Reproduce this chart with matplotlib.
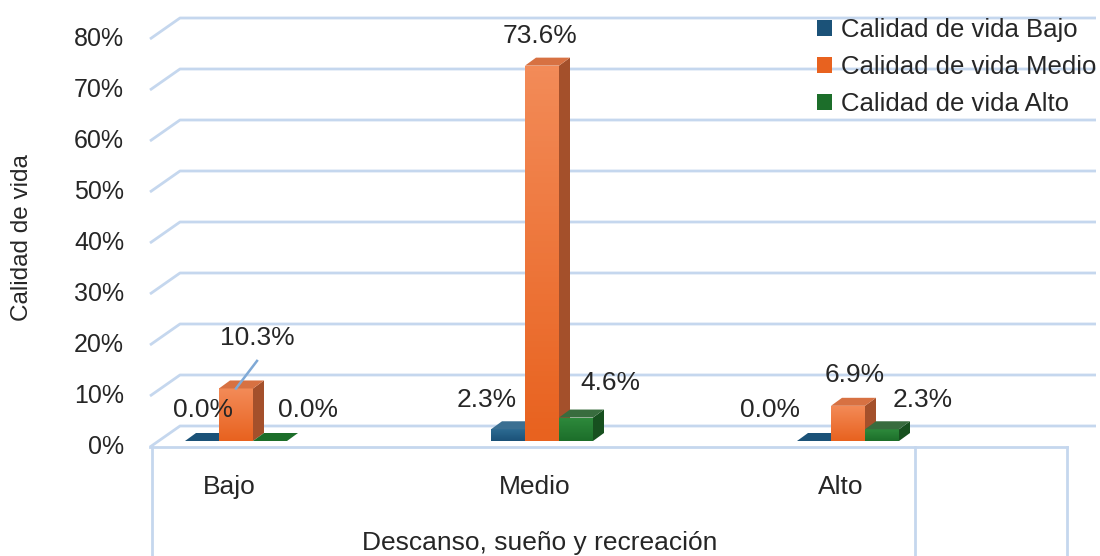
import numpy as np
import matplotlib.pyplot as plt
from matplotlib.patches import Polygon, Rectangle, Patch
from matplotlib.colors import LinearSegmentedColormap

# data
categories = ['Bajo', 'Medio', 'Alto']
series_names = ['Calidad de vida Bajo', 'Calidad de vida Medio', 'Calidad de vida Alto']
vida_bajo = [0.0, 2.3, 0.0]
vida_medio = [10.3, 73.6, 6.9]
vida_alto = [0.0, 4.6, 2.3]
ytick_values = [0, 10, 20, 30, 40, 50, 60, 70, 80]

plt.rcParams['font.family'] = ['Liberation Sans', 'DejaVu Sans']

W, H = 1100, 556
fig = plt.figure(figsize=(11, 5.56), dpi=100)
ax = fig.add_axes([0, 0, 1, 1])

# axis scale: one category = 306 px, 1 % = 5.1 px, baseline at pixel row 441
X0, STEP, Y0, PPU = 236, 306.0, 441, 5.1
ax.set_xlim(-X0 / STEP, (W - X0) / STEP)
ax.set_ylim(-(H - Y0) / PPU, Y0 / PPU)
ax.axis('off')


def px(x, y):
    # pixel position -> data coords (used for layout only)
    return (x - X0) / STEP, (Y0 - y) / PPU


text_c = '#262626'
grid_c = '#C5D7EE'

# walls / gridlines (pseudo 3d)
left_f = px(150, 0)[0]
left_b = px(180, 0)[0]
right_b = px(1096, 0)[0]
right_f = px(1067, 0)[0]
f_off = -6 / PPU
b_off = 15 / PPU
for v in ytick_values:
    ax.plot([left_f, left_b, right_b], [v + f_off, v + b_off, v + b_off],
            color=grid_c, lw=2, zorder=1, solid_capstyle='butt')
    ax.text(px(124, 0)[0], v + f_off, f'{v}%', ha='right', va='center',
            fontsize=18, color=text_c)

# floor front edge and the category box lines
ax.plot([left_f, right_f], [f_off, f_off], color=grid_c, lw=2, zorder=1)
bottom = px(0, H)[1]
for xp in [152, 915, 1067]:
    xd = px(xp, 0)[0]
    ax.plot([xd, xd], [f_off, bottom], color=grid_c, lw=2, zorder=1)

# bars
bw = 34 / STEP
ddx = 11 / STEP
ddy = 8 / PPU
colors = [
    # front top, front bottom, top face, side face
    ('#2C6A92', '#1B5278', '#3B6F92', '#17415F'),
    ('#F38B58', '#E8621F', '#D77142', '#A4502B'),
    ('#2E8A3C', '#1C6E2A', '#386C3E', '#17501F'),
]
series_vals = [vida_bajo, vida_medio, vida_alto]

# label offsets (px) from bar top centre
label_offsets = [
    [(1, -31), (-21, -29), (-44, -31)],
    [(21, -50), (-2, -30), (7, -31)],
    [(38, -31), (34, -35), (41, -29)],
]

for i, cat in enumerate(categories):
    for j, vals in enumerate(series_vals):
        h = vals[i]
        x0 = i + (j - 1) * bw - bw / 2
        c_top, c_bot, c_lid, c_side = colors[j]
        z = 3 + j
        if h > 0:
            front = Rectangle((x0, 0), bw, h, facecolor='none', edgecolor='none', zorder=z)
            ax.add_patch(front)
            grad = np.linspace(0, 1, 64).reshape(-1, 1)
            cmap = LinearSegmentedColormap.from_list('g', [c_bot, c_top])
            im = ax.imshow(grad, extent=(x0, x0 + bw, 0, h), origin='lower',
                           cmap=cmap, aspect='auto', zorder=z)
            im.set_clip_path(front)
            ax.add_patch(Polygon([(x0 + bw, 0), (x0 + bw + ddx, ddy),
                                  (x0 + bw + ddx, h + ddy), (x0 + bw, h)],
                                 facecolor=c_side, edgecolor='none', zorder=z))
        ax.add_patch(Polygon([(x0, h), (x0 + bw, h), (x0 + bw + ddx, h + ddy),
                              (x0 + ddx, h + ddy)],
                             facecolor=c_lid if h > 0 else c_bot, edgecolor='none', zorder=z))
        dx_px, dy_px = label_offsets[j][i]
        lx = x0 + bw / 2 + dx_px / STEP
        ly = h - dy_px / PPU
        ax.text(lx, ly, f'{h:.1f}%', ha='center', va='center', fontsize=19,
                color=text_c, zorder=10)
        if dy_px < -40:
            # leader line for the label that sits far from its bar
            ax.plot([x0 + bw / 2, lx], [h, ly - 4.4], color='#7FA9D6', lw=1.8, zorder=9)

    ax.text(*px(X0 + i * STEP - 7, 487), cat, ha='center', va='center',
            fontsize=19, color=text_c)

ax.set_xlim(-X0 / STEP, (W - X0) / STEP)
ax.set_ylim(-(H - Y0) / PPU, Y0 / PPU)

# axis titles
ax.text(*px(540, 543), 'Descanso, sueño y recreación', ha='center', va='center',
        fontsize=19, color=text_c)
ax.text(*px(22, 238), 'Calidad de vida', ha='center', va='center', rotation=90,
        fontsize=17.5, color=text_c)

handles = [Patch(facecolor=colors[k][1], edgecolor='none') for k in range(3)]
ax.legend(handles, series_names, loc='upper right', bbox_to_anchor=(0.999, 0.972),
          frameon=False, fontsize=18.5, handlelength=0.6, handleheight=0.6,
          handletextpad=0.35, labelspacing=0.5, borderaxespad=0.0, borderpad=0.1,
          labelcolor=text_c)

fig.savefig('out.png', dpi=100)
